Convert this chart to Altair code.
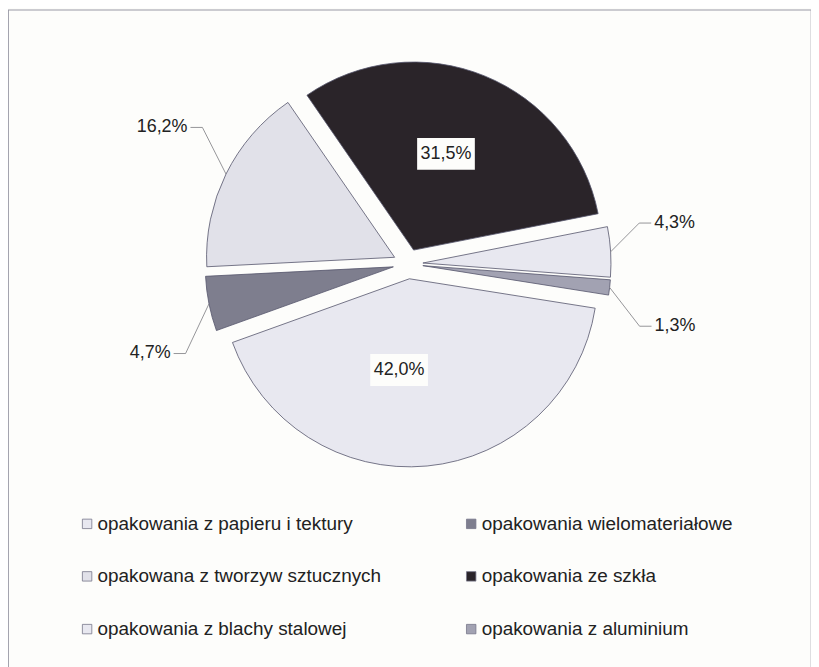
import math
import altair as alt
import pandas as pd

# ---- data ----
categories = [
    "opakowania z papieru i tektury",
    "opakowania wielomateriałowe",
    "opakowana z tworzyw sztucznych",
    "opakowania ze szkła",
    "opakowania z blachy stalowej",
    "opakowania z aluminium",
]
shares = [42.0, 4.7, 16.2, 31.5, 4.3, 1.3]

# ---- styles ----
colors = ["#e8e8f0", "#7e7e8e", "#e1e1e9", "#2a2429", "#e8e8f0", "#a2a2b2"]

# legend is filled column by column: column 1 then column 2
legend_order = [0, 2, 4, 1, 3, 5]

# ---- label layout (angle nudge in degrees, distance from pie centre) ----
label_nudge = [10.2, -10.6, 7.3, -3.1, -6.6, 8.4]
label_dist = [107, 241, 248, 117, 236, 241]
label_inside = [True, False, False, True, False, False]

# ---- geometry ----
W, H = 807, 680
CX, CY = 402, 255.5
R = 189
EXP = 15
START_DEG = 99.0
a0 = START_DEG * math.pi / 180
FONT = "Liberation Sans"

df = pd.DataFrame({
    "cat": categories,
    "value": shares,
    "order": list(range(len(categories))),
    "nudge": label_nudge,
    "ld": label_dist,
    "inside": label_inside,
})

base = (
    alt.Chart(df)
    .transform_joinaggregate(total="sum(value)")
    .transform_window(cum="sum(value)", sort=[alt.SortField("order")], frame=[None, 0])
    .transform_calculate(
        start="datum.cum - datum.value",
        mid=f"{a0} + 2*PI*(datum.cum - datum.value/2)/datum.total",
    )
    .transform_calculate(
        ax=f"{CX} + {EXP}*sin(datum.mid)",
        ay=f"{CY} - {EXP}*cos(datum.mid)",
        la="datum.mid + datum.nudge*PI/180",
        ex=f"{CX} + {R + EXP}*sin(datum.mid)",
        ey=f"{CY} - {R + EXP}*cos(datum.mid)",
        label="replace(format(datum.value, '.1f'), '.', ',') + '%'",
    )
    .transform_calculate(
        lx=f"{CX} + datum.ld*sin(datum.la)",
        ly=f"{CY} - datum.ld*cos(datum.la)",
        side="sin(datum.la) < 0 ? -1 : 1",
    )
    .transform_calculate(
        hx="datum.lx + 12*datum.side",
        tx="datum.lx + 15*datum.side",
        bx1="datum.lx - 29",
        bx2="datum.lx + 29",
        by1="datum.ly - 16",
        by2="datum.ly + 16",
    )
)

total = sum(shares)

arcs = base.mark_arc(radius=R, stroke="#55556b", strokeWidth=0.8).encode(
    theta=alt.Theta(
        "start:Q",
        stack=False,
        scale=alt.Scale(domain=[0, total], range=[a0, a0 + 2 * math.pi], nice=False),
    ),
    theta2="cum:Q",
    x=alt.X("ax:Q", scale=None, axis=None),
    y=alt.Y("ay:Q", scale=None, axis=None),
    color=alt.Color(
        "cat:N",
        scale=alt.Scale(
            domain=[categories[i] for i in legend_order],
            range=[colors[i] for i in legend_order],
        ),
        legend=alt.Legend(
            orient="none",
            legendX=70,
            legendY=507,
            columns=2,
            title=None,
            symbolType="square",
            symbolSize=90,
            symbolStrokeColor="#77778a",
            symbolStrokeWidth=0.8,
            labelFont=FONT,
            labelFontSize=19,
            labelColor="#222222",
            labelOffset=1,
            labelLimit=500,
            columnPadding=80,
            rowPadding=33,
        ),
    ),
    order=alt.Order("order:Q"),
)

outer = base.transform_filter("!datum.inside")

lead1 = outer.mark_rule(color="#7a7a80", strokeWidth=0.8).encode(
    x=alt.X("ex:Q", scale=None, axis=None),
    y=alt.Y("ey:Q", scale=None, axis=None),
    x2="lx:Q",
    y2="ly:Q",
)
lead2 = outer.mark_rule(color="#7a7a80", strokeWidth=0.8).encode(
    x=alt.X("lx:Q", scale=None, axis=None),
    y=alt.Y("ly:Q", scale=None, axis=None),
    x2="hx:Q",
    y2="ly:Q",
)

txt_left = outer.transform_filter("datum.side < 0").mark_text(
    align="right", baseline="middle", font=FONT, fontSize=18, color="#222222"
).encode(
    x=alt.X("tx:Q", scale=None, axis=None),
    y=alt.Y("ly:Q", scale=None, axis=None),
    text="label:N",
)
txt_right = outer.transform_filter("datum.side > 0").mark_text(
    align="left", baseline="middle", font=FONT, fontSize=18, color="#222222"
).encode(
    x=alt.X("tx:Q", scale=None, axis=None),
    y=alt.Y("ly:Q", scale=None, axis=None),
    text="label:N",
)

inner = base.transform_filter("datum.inside")
box = inner.mark_rect(color="#fdfdfb").encode(
    x=alt.X("bx1:Q", scale=None, axis=None),
    x2="bx2:Q",
    y=alt.Y("by1:Q", scale=None, axis=None),
    y2="by2:Q",
)
txt_in = inner.mark_text(
    align="center", baseline="middle", font=FONT, fontSize=18, color="#222222"
).encode(
    x=alt.X("lx:Q", scale=None, axis=None),
    y=alt.Y("ly:Q", scale=None, axis=None),
    text="label:N",
)

chart = (
    alt.layer(arcs, lead1, lead2, txt_left, txt_right, box, txt_in)
    .properties(
        width=W,
        height=H,
        autosize=alt.AutoSizeParams(type="none"),
        padding=0,
        background="#fdfdfb",
    )
    .configure_view(stroke="#9a9aa6", strokeWidth=1.2)
)

chart.save("out.html", embed_options={"renderer": "svg", "actions": False})
